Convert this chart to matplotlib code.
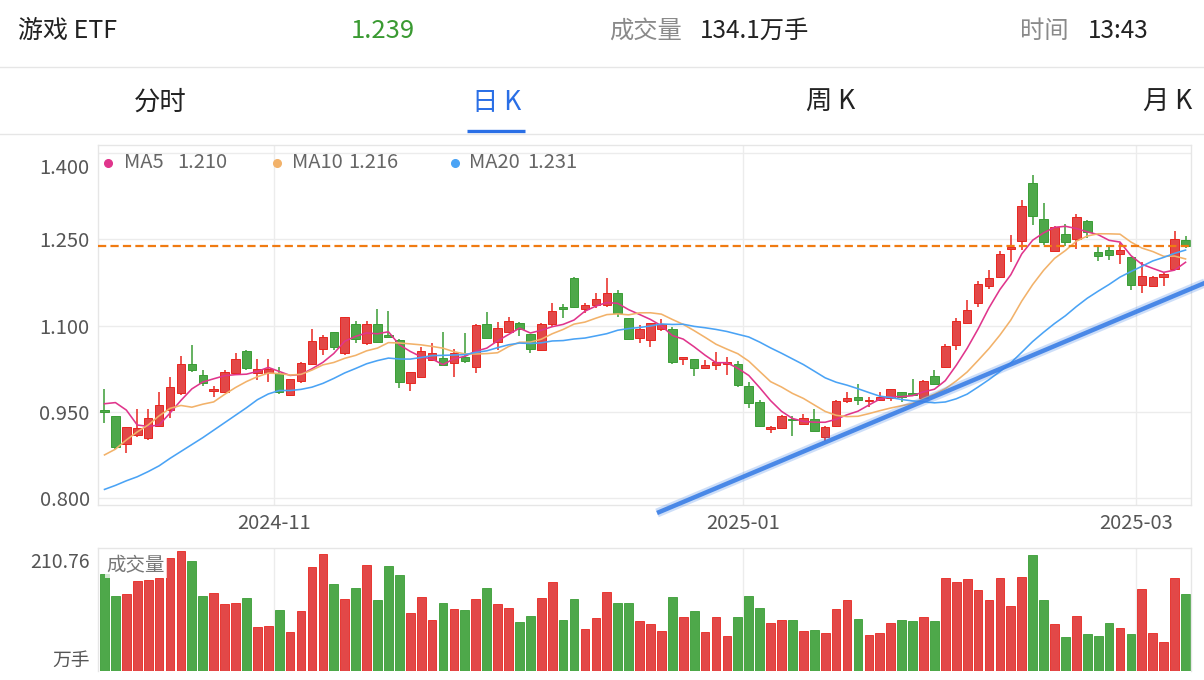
import numpy as np
import pandas as pd
import matplotlib
matplotlib.use("Agg")
import matplotlib.pyplot as plt
from matplotlib.lines import Line2D
from matplotlib.transforms import ScaledTranslation

plt.rcParams['font.family'] = ['Noto Sans CJK SC', 'DejaVu Sans']

# ---------------- data ----------------
opens = [0.953, 0.942, 0.894, 0.910, 0.904, 0.926, 0.953, 0.982, 1.033, 1.014,
         0.986, 0.985, 1.018, 1.056, 1.017, 1.018, 1.017, 0.979, 1.004, 1.033,
         1.059, 1.088, 1.052, 1.102, 1.069, 1.103, 1.083, 1.075, 1.000, 1.011,
         1.040, 1.044, 1.035, 1.046, 1.028, 1.103, 1.072, 1.089, 1.105, 1.085,
         1.058, 1.103, 1.132, 1.183, 1.128, 1.135, 1.136, 1.157, 1.113, 1.078,
         1.075, 1.094, 1.094, 1.042, 1.041, 1.027, 1.031, 1.033, 1.033, 0.994,
         0.967, 0.920, 0.922, 0.937, 0.929, 0.938, 0.906, 0.925, 0.968, 0.975,
         0.968, 0.971, 0.974, 0.984, 0.983, 0.974, 1.012, 1.028, 1.066, 1.105,
         1.140, 1.169, 1.184, 1.233, 1.247, 1.348, 1.285, 1.230, 1.259, 1.250,
         1.282, 1.228, 1.231, 1.224, 1.219, 1.171, 1.169, 1.185, 1.198, 1.249]
highs = [0.990, 0.942, 0.924, 0.955, 0.955, 0.985, 1.011, 1.047, 1.066, 1.022,
         0.994, 1.023, 1.052, 1.058, 1.041, 1.041, 1.028, 1.007, 1.036, 1.094,
         1.084, 1.089, 1.115, 1.108, 1.108, 1.129, 1.125, 1.077, 1.019, 1.063,
         1.069, 1.088, 1.059, 1.087, 1.102, 1.124, 1.107, 1.115, 1.106, 1.086,
         1.104, 1.140, 1.137, 1.184, 1.140, 1.156, 1.182, 1.161, 1.113, 1.101,
         1.105, 1.111, 1.097, 1.046, 1.042, 1.040, 1.054, 1.045, 1.038, 1.002,
         0.971, 0.925, 0.944, 0.942, 0.947, 0.954, 0.925, 0.970, 0.985, 0.998,
         0.975, 0.985, 0.990, 0.985, 1.007, 1.005, 1.023, 1.068, 1.113, 1.144,
         1.178, 1.197, 1.230, 1.258, 1.318, 1.362, 1.313, 1.273, 1.276, 1.294,
         1.283, 1.237, 1.238, 1.243, 1.220, 1.211, 1.186, 1.191, 1.264, 1.256]
lows = [0.931, 0.885, 0.878, 0.906, 0.901, 0.924, 0.939, 0.979, 1.019, 0.995,
        0.976, 0.983, 1.016, 1.022, 1.005, 1.001, 0.981, 0.978, 1.000, 1.031,
        1.049, 1.058, 1.049, 1.069, 1.067, 1.069, 1.078, 0.991, 0.987, 1.010,
        1.038, 1.030, 1.010, 1.035, 1.017, 1.078, 1.058, 1.087, 1.081, 1.053,
        1.056, 1.098, 1.113, 1.131, 1.121, 1.130, 1.133, 1.114, 1.076, 1.069,
        1.063, 1.091, 1.033, 1.031, 1.012, 1.026, 1.022, 1.014, 0.993, 0.956,
        0.923, 0.913, 0.921, 0.908, 0.928, 0.916, 0.900, 0.924, 0.966, 0.962,
        0.958, 0.969, 0.969, 0.967, 0.978, 0.972, 0.997, 1.027, 1.058, 1.104,
        1.133, 1.163, 1.183, 1.211, 1.231, 1.274, 1.240, 1.229, 1.238, 1.233,
        1.252, 1.212, 1.214, 1.207, 1.161, 1.157, 1.168, 1.168, 1.197, 1.234]
closes = [0.949, 0.889, 0.923, 0.922, 0.940, 0.961, 0.993, 1.033, 1.022, 1.000,
          0.989, 1.020, 1.042, 1.026, 1.024, 1.024, 0.985, 1.007, 1.035, 1.073,
          1.080, 1.062, 1.114, 1.077, 1.103, 1.072, 1.080, 1.001, 1.019, 1.056,
          1.053, 1.031, 1.053, 1.039, 1.101, 1.079, 1.095, 1.108, 1.094, 1.059,
          1.103, 1.126, 1.128, 1.132, 1.136, 1.147, 1.157, 1.121, 1.077, 1.094,
          1.104, 1.102, 1.036, 1.046, 1.027, 1.031, 1.037, 1.036, 0.997, 0.965,
          0.925, 0.924, 0.943, 0.935, 0.940, 0.917, 0.924, 0.969, 0.974, 0.971,
          0.971, 0.975, 0.990, 0.975, 0.979, 1.004, 0.998, 1.065, 1.108, 1.127,
          1.172, 1.182, 1.224, 1.237, 1.308, 1.291, 1.246, 1.272, 1.246, 1.289,
          1.262, 1.221, 1.223, 1.231, 1.171, 1.187, 1.185, 1.189, 1.250, 1.239]
volumes = [170.8, 130.7, 134.3, 158.5, 159.0, 163.8, 198.4, 210.76, 193.1, 131.3,
           137.3, 117.8, 119.6, 127.7, 77.7, 79.5, 107.2, 68.9, 104.8, 182.5,
           204.9, 152.5, 126.0, 146.1, 186.0, 124.9, 183.2, 168.4, 101.2, 129.0,
           89.6, 118.9, 109.0, 106.5, 125.4, 146.1, 117.1, 110.1, 86.6, 95.9,
           128.4, 156.0, 89.6, 126.0, 73.7, 92.4, 138.3, 118.4, 118.9, 88.3,
           82.5, 70.1, 129.0, 94.9, 104.8, 67.7, 95.4, 61.8, 94.2, 130.7,
           110.8, 84.3, 88.9, 90.1, 69.4, 71.9, 65.9, 107.8, 123.7, 91.3,
           63.6, 66.6, 83.6, 90.1, 88.3, 94.2, 88.3, 163.8, 155.5, 162.0,
           141.3, 123.7, 163.1, 114.3, 165.5, 202.6, 123.7, 81.8, 58.8, 96.6,
           65.4, 61.8, 84.3, 76.0, 64.1, 144.3, 66.6, 50.0, 162.5, 134.3]
# moving-average values at the start of the window (history before the first candle)
ma5_head = [0.964, 0.966, 0.953, 0.927]
ma10_head = [0.875, 0.885, 0.901, 0.915, 0.927, 0.943, 0.956, 0.961, 0.958]
ma20_head = [0.815, 0.822, 0.830, 0.837, 0.846, 0.856, 0.869, 0.881, 0.893, 0.905,
             0.918, 0.931, 0.944, 0.957, 0.971, 0.981, 0.987, 0.987, 0.989]

ma_names = ['MA5', 'MA10', 'MA20']
ma_values = ['1.210', '1.216', '1.231']
price_ticks = [0.800, 0.950, 1.100, 1.250, 1.400]
price_tick_labels = ['0.800', '0.950', '1.100', '1.250', '1.400']
month_pos = [15.5, 58.5, 94.5]
month_labels = ['2024-11', '2025-01', '2025-03']
last_price = 1.239
trend_x = [50.6, 101.0]
trend_y = [0.774, 1.176]
vol_max_label = '210.76'
vol_unit = '万手'

header_name = '游戏 ETF'
header_price = '1.239'
header_vol_label = '成交量'
header_vol = '134.1万手'
header_time_label = '时间'
header_time = '13:43'
tabs = ['分时', '日 K', '周 K', '月 K']

# ---------------- figure ----------------
W, H = 1204, 680
fig = plt.figure(figsize=(W / 100, H / 100), dpi=100)
fig.patch.set_facecolor('white')

def fx(px):
    return px / W

def fy(py):
    return 1 - py / H

# header
hy = 31
fig.text(fx(18), fy(hy), header_name, fontsize=18, color='#222222', va='center', ha='left')
fig.text(fx(383), fy(hy), header_price, fontsize=18.5, color='#3a9a32', va='center', ha='center')
fig.text(fx(609), fy(hy), header_vol_label, fontsize=17.5, color='#8a8a8a', va='center', ha='left')
fig.text(fx(700), fy(hy), header_vol, fontsize=17.5, color='#222222', va='center', ha='left')
fig.text(fx(1020), fy(hy), header_time_label, fontsize=17.5, color='#8a8a8a', va='center', ha='left')
fig.text(fx(1088), fy(hy), header_time, fontsize=17.5, color='#222222', va='center', ha='left')
fig.add_artist(Line2D([0, 1], [fy(67), fy(67)], transform=fig.transFigure, color='#e6e6e6', lw=1))

tab_x = [160, 497, 831, 1168]
for t, tx in zip(tabs, tab_x):
    col = '#2a6fe6' if t.startswith('日') else '#222222'
    fig.text(fx(tx), fy(102), t, fontsize=19, color=col, va='center', ha='center')
fig.add_artist(Line2D([fx(467), fx(525)], [fy(131), fy(131)], transform=fig.transFigure,
                      color='#2a6fe6', lw=2.4, solid_capstyle='butt'))
fig.add_artist(Line2D([0, 1], [fy(134), fy(134)], transform=fig.transFigure, color='#e6e6e6', lw=1))

# ---------------- price panel ----------------
ax = fig.add_axes([fx(98), fy(505), fx(1191) - fx(98), fy(144.7) - fy(505)])
axv = fig.add_axes([fx(98), fy(671), fx(1191) - fx(98), fy(548) - fy(671)])

o = np.array(opens); h = np.array(highs); l = np.array(lows); c = np.array(closes)
x = np.arange(len(c))
up = c >= o
fill = np.where(up, '#e24848', '#4ea84a')
edge = np.where(up, '#e8261f', '#3a9d35')

ax.vlines(x, l, h, colors=edge, lw=1.1, zorder=2)
body_bottom = np.minimum(o, c)
body_h = np.maximum(np.abs(c - o), 0.0018)
ax.bar(x, body_h, bottom=body_bottom, width=0.78, color=fill, edgecolor=edge,
       linewidth=0.7, zorder=2.5)

s = pd.Series(c)
ma5 = s.rolling(5).mean().to_numpy()
ma10 = s.rolling(10).mean().to_numpy()
ma20 = s.rolling(20).mean().to_numpy()
ma5[:len(ma5_head)] = ma5_head
ma10[:len(ma10_head)] = ma10_head
ma20[:len(ma20_head)] = ma20_head
ma_colors = ['#e0358c', '#f2b26a', '#4aa3f5']
for arr, col in zip([ma5, ma10, ma20], ma_colors):
    ax.plot(x, arr, color=col, lw=1.15, zorder=3)

ax.axhline(last_price, color='#f07b12', lw=1.6, ls=(0, (3.7, 1.9)), zorder=4)

# trend line (drawn on the chart)
ax.plot(trend_x, trend_y, color='#3b7fe6', lw=6.5, alpha=0.25, clip_on=False, zorder=5,
        solid_capstyle='butt')
ax.plot(trend_x, trend_y, color='#3b7fe6', lw=3.2, alpha=0.9, clip_on=False, zorder=5,
        solid_capstyle='butt')

ax.set_xlim(-0.595, 99.5)
ax.set_ylim(0.7879, 1.4145)
ax.set_yticks(price_ticks)
ax.set_yticklabels(price_tick_labels)
ax.set_xticks(month_pos)
ax.set_xticklabels(month_labels)
ax.grid(True, color='#ececec', lw=1, zorder=0)
ax.set_axisbelow(True)
ax.tick_params(axis='y', length=0, labelsize=14.5, labelcolor='#555555', pad=6)
ax.tick_params(axis='x', length=0, labelsize=14.5, labelcolor='#555555', pad=6)
for sp in ax.spines.values():
    sp.set_color('#e6e6e6')
    sp.set_linewidth(1)
# keep top label inside the panel
for lab in ax.get_yticklabels():
    if lab.get_text() == '1.400':
        lab.set_transform(lab.get_transform() + ScaledTranslation(0, -0.127, fig.dpi_scale_trans))

# legend
leg_dot_x = [108, 277, 455]
leg_name_x = [124, 292, 469]
leg_val_x = [177, 348, 527]
for name, val, col, dx, nx, vx in zip(ma_names, ma_values, ma_colors, leg_dot_x, leg_name_x, leg_val_x):
    fig.add_artist(Line2D([fx(dx)], [fy(163)], transform=fig.transFigure, marker='o',
                          markersize=5.5, color=col, lw=0))
    fig.text(fx(nx), fy(163), name, fontsize=14.5, color='#666666', va='center', ha='left')
    fig.text(fx(vx), fy(163), val, fontsize=14.5, color='#666666', va='center', ha='left')

# ---------------- volume panel ----------------
axv.bar(x, volumes, width=0.8, color=fill, edgecolor=edge, linewidth=0.6, zorder=2)
axv.set_xlim(-0.595, 99.5)
axv.set_ylim(0, 215.5)
axv.set_xticks(month_pos)
axv.set_xticklabels([])
axv.set_yticks([])
axv.grid(True, axis='x', color='#ececec', lw=1, zorder=0)
axv.set_axisbelow(True)
axv.tick_params(length=0)
for sp in axv.spines.values():
    sp.set_color('#e6e6e6')
    sp.set_linewidth(1)
axv.spines['bottom'].set_visible(False)

fig.text(fx(90), fy(562), vol_max_label, fontsize=14, color='#555555', va='center', ha='right')
fig.text(fx(90), fy(660), vol_unit, fontsize=13.5, color='#555555', va='center', ha='right')
axv.text(0.008, 0.86, header_vol_label, transform=axv.transAxes, fontsize=14, color='#777777',
         va='center', ha='left', zorder=6,
         bbox=dict(boxstyle='square,pad=0.1', facecolor='white', alpha=0.75, edgecolor='none'))

fig.savefig('out.png', dpi=100, facecolor='white')
